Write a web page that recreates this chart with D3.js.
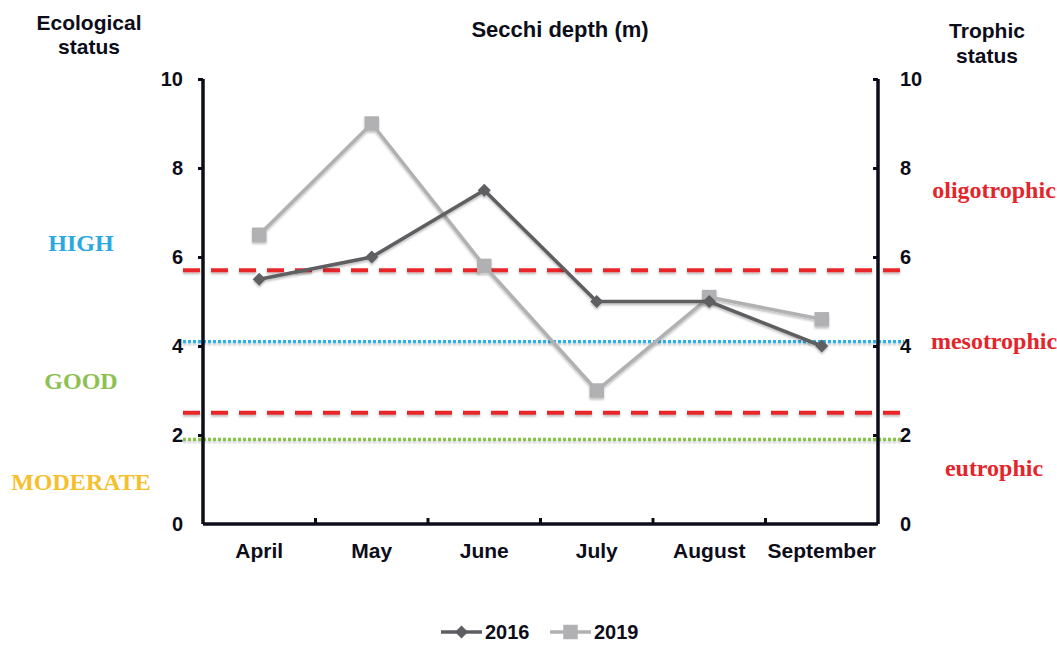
<!DOCTYPE html>
<html>
<head>
<meta charset="utf-8">
<script src="https://cdn.jsdelivr.net/npm/d3@7"></script>
<style>
  body { margin: 0; background: #fff; }
  svg { display: block; }
  .tick text, .axis-label { font-family: "Liberation Sans", Arial, sans-serif; font-weight: bold; fill: #0d0d1a; }
  .status { font-family: "Liberation Serif", "Times New Roman", serif; font-weight: bold; font-size: 24px; }
</style>
</head>
<body>
<svg id="chart" width="1057" height="666"></svg>
<script>
// months on the x axis
var months = ["April", "May", "June", "July", "August", "September"];
// Secchi depth (m)
var depth2016 = [5.5, 6.0, 7.5, 5.0, 5.0, 4.0];
var depth2019 = [6.5, 9.0, 5.8, 3.0, 5.1, 4.6];
var yTicks = [0, 2, 4, 6, 8, 10];
// threshold lines
var thresholds = [
  {value: 5.7, color: "#e8282a", dash: "17,11", width: 4},
  {value: 4.1, color: "#2ab0e6", dash: "3,2", width: 3.2},
  {value: 2.5, color: "#e8282a", dash: "17,11", width: 4},
  {value: 1.9, color: "#86c44a", dash: "3,2", width: 3.2}
];
// left / right class labels
var ecoLabels = [
  {text: "HIGH", value: 6.25, color: "#2aa8e0"},
  {text: "GOOD", value: 3.15, color: "#8cc152"},
  {text: "MODERATE", value: 0.88, color: "#f6c02c"}
];
var trophicLabels = [
  {text: "oligotrophic", value: 7.45, color: "#e3262b"},
  {text: "mesotrophic", value: 4.05, color: "#e3262b"},
  {text: "eutrophic", value: 1.2, color: "#e3262b"}
];

var svg = d3.select("#chart");
var plotLeft = 203, plotRight = 878, plotTop = 79, plotBottom = 524;

var x = d3.scaleBand().domain(months).range([plotLeft, plotRight]);
var y = d3.scaleLinear().domain([0, 10]).range([plotBottom, plotTop]);
var cx = (d) => x(d) + x.bandwidth() / 2;

// soft shadow like the original (user space so flat lines still render)
var defs = svg.append("defs");
defs.append("filter").attr("id", "shadow")
  .attr("filterUnits", "userSpaceOnUse")
  .attr("x", 0).attr("y", 0).attr("width", 1057).attr("height", 666)
  .append("feDropShadow")
  .attr("dx", 0).attr("dy", 2).attr("stdDeviation", 1.2)
  .attr("flood-color", "#000").attr("flood-opacity", 0.25);

//
// threshold lines
svg.append("g").selectAll("line")
  .data(thresholds)
  .join("line")
  .attr("x1", 183).attr("x2", 904)
  .attr("y1", (d) => y(d.value)).attr("y2", (d) => y(d.value))
  .attr("stroke", (d) => d.color)
  .attr("stroke-width", (d) => d.width)
  .attr("stroke-dasharray", (d) => d.dash)
  .attr("filter", "url(#shadow)");

//
// axes
var yLeft = svg.append("g")
  .attr("transform", "translate(" + plotLeft + ",0)")
  .call(d3.axisLeft(y).tickValues(yTicks).tickSize(5).tickPadding(15));
var yRight = svg.append("g")
  .attr("transform", "translate(" + plotRight + ",0)")
  .call(d3.axisRight(y).tickValues(yTicks).tickSize(-5).tickPadding(22));
var xAxis = svg.append("g")
  .attr("transform", "translate(0," + plotBottom + ")")
  .call(d3.axisBottom(x).tickSize(0).tickPadding(19));

[yLeft, yRight, xAxis].forEach(function(g) {
  g.select(".domain").attr("stroke", "#0d0d1a").attr("stroke-width", 3.5);
  g.selectAll(".tick line").attr("stroke", "#0d0d1a").attr("stroke-width", 3);
  g.selectAll(".tick text").attr("font-size", 20);
});
xAxis.selectAll(".tick text").attr("font-size", 21);
yLeft.select(".domain").attr("d", "M0," + plotTop + "V" + plotBottom);
yRight.select(".domain").attr("d", "M0," + plotTop + "V" + plotBottom);
xAxis.select(".domain").attr("d", "M" + plotLeft + ",0H" + plotRight);
yLeft.selectAll(".tick").filter((d) => d === 0).select("line").remove();
yRight.selectAll(".tick").filter((d) => d === 0).select("line").remove();

// category boundary ticks pointing inward
svg.append("g").selectAll("line")
  .data(months.slice(1))
  .join("line")
  .attr("x1", (d) => x(d)).attr("x2", (d) => x(d))
  .attr("y1", plotBottom).attr("y2", plotBottom - 6)
  .attr("stroke", "#0d0d1a").attr("stroke-width", 3);

//
// series
var series = [
  {name: "2016", values: depth2016, color: "#5e5e62", marker: d3.symbolSquare, size: 85, rotate: 45},
  {name: "2019", values: depth2019, color: "#b1b1b3", marker: d3.symbolSquare, size: 210, rotate: 0}
];
var line = d3.line().x((d) => cx(d.m)).y((d) => y(d.v));

series.slice().reverse().forEach(function(s) {
  var pts = months.map((m, i) => ({m: m, v: s.values[i]}));
  var g = svg.append("g").attr("filter", "url(#shadow)");
  g.append("path")
    .datum(pts)
    .attr("d", line)
    .attr("fill", "none")
    .attr("stroke", s.color)
    .attr("stroke-width", 3.5);
  g.selectAll("path.mark")
    .data(pts)
    .join("path")
    .attr("class", "mark")
    .attr("d", d3.symbol().type(s.marker).size(s.size))
    .attr("transform", (d) => "translate(" + cx(d.m) + "," + y(d.v) + ") rotate(" + s.rotate + ")")
    .attr("fill", s.color);
});

//
// titles
svg.append("text").attr("class", "axis-label")
  .attr("x", 560).attr("y", 37).attr("text-anchor", "middle")
  .attr("font-size", 22).text("Secchi depth (m)");
var eco = svg.append("text").attr("class", "axis-label")
  .attr("text-anchor", "middle").attr("font-size", 21);
eco.append("tspan").attr("x", 89).attr("y", 30).text("Ecological");
eco.append("tspan").attr("x", 89).attr("y", 54).text("status");
var tro = svg.append("text").attr("class", "axis-label")
  .attr("text-anchor", "middle").attr("font-size", 21);
tro.append("tspan").attr("x", 987).attr("y", 38).text("Trophic");
tro.append("tspan").attr("x", 987).attr("y", 63).text("status");

svg.append("g").selectAll("text")
  .data(ecoLabels)
  .join("text")
  .attr("class", "status")
  .attr("x", 81).attr("y", (d) => y(d.value))
  .attr("text-anchor", "middle").attr("dominant-baseline", "middle")
  .attr("fill", (d) => d.color)
  .text((d) => d.text);

svg.append("g").selectAll("text")
  .data(trophicLabels)
  .join("text")
  .attr("class", "status")
  .attr("x", 994).attr("y", (d) => y(d.value))
  .attr("text-anchor", "middle").attr("dominant-baseline", "middle")
  .attr("fill", (d) => d.color)
  .text((d) => d.text);

//
// legend
var legend = svg.append("g").attr("transform", "translate(441,632)");
var lx = d3.scaleOrdinal().domain(series.map((s) => s.name)).range([0, 109]);
series.forEach(function(s) {
  var g = legend.append("g").attr("transform", "translate(" + lx(s.name) + ",0)");
  g.append("line").attr("x1", 0).attr("x2", 41).attr("y1", 0).attr("y2", 0)
    .attr("stroke", s.color).attr("stroke-width", 3.5);
  g.append("path").attr("d", d3.symbol().type(s.marker).size(s.size))
    .attr("transform", "translate(20.5,0) rotate(" + s.rotate + ")").attr("fill", s.color);
  g.append("text").attr("class", "axis-label")
    .attr("x", 44).attr("y", 0).attr("dy", "0.36em")
    .attr("font-size", 20).text(s.name);
});
</script>
</body>
</html>
